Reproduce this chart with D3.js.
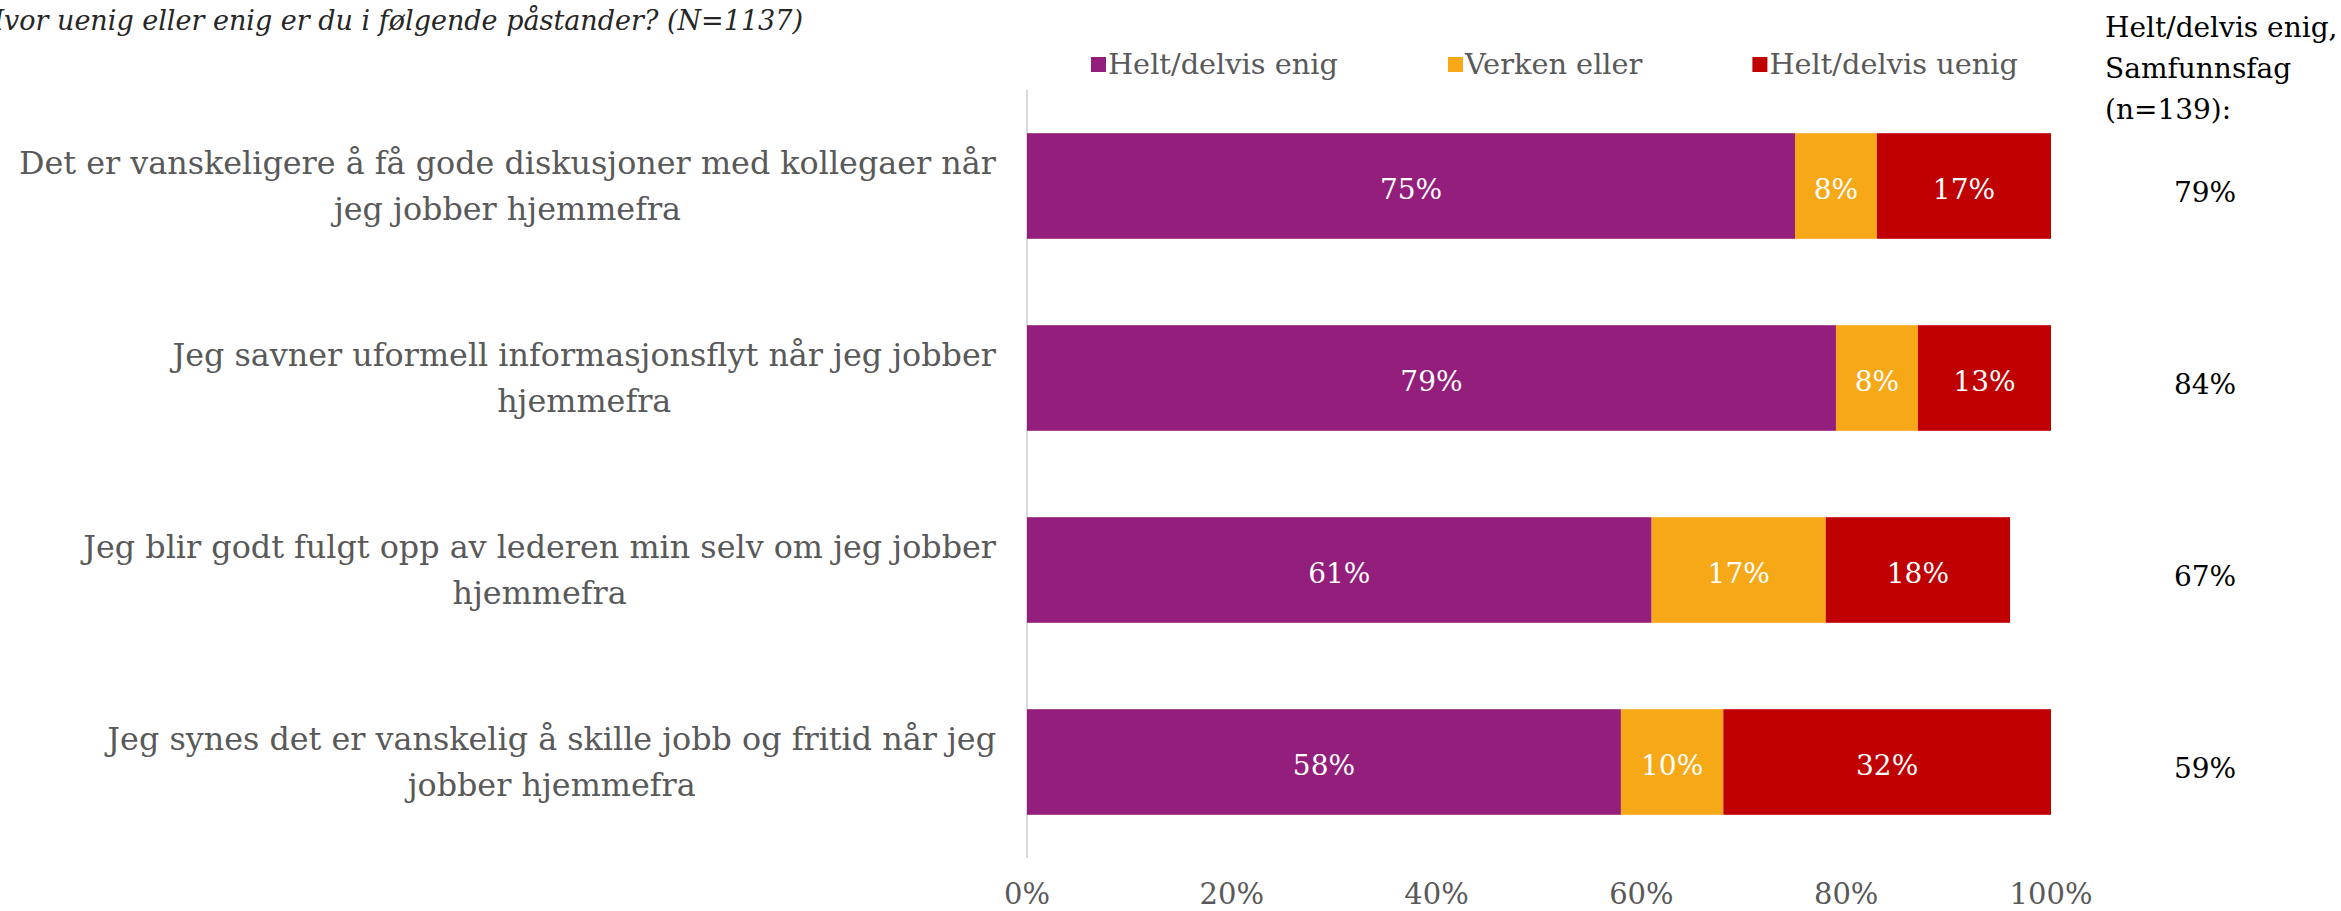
<!DOCTYPE html>
<html>
<head>
<meta charset="utf-8">
<script src="https://cdn.jsdelivr.net/npm/d3@7"></script>
<style>
  html, body { margin: 0; padding: 0; background: #fff; overflow: hidden; }
  svg { display: block; font-family: "DejaVu Serif", "Liberation Serif", serif; }
</style>
</head>
<body>
<div id="chart"></div>
<script>
// data
const statements = [
    ["Det er vanskeligere å få gode diskusjoner med kollegaer når", "jeg jobber hjemmefra"],
    ["Jeg savner uformell informasjonsflyt når jeg jobber", "hjemmefra"],
    ["Jeg blir godt fulgt opp av lederen min selv om jeg jobber", "hjemmefra"],
    ["Jeg synes det er vanskelig å skille jobb og fritid når jeg", "jobber hjemmefra"]
];
const seriesNames = ["Helt/delvis enig", "Verken eller", "Helt/delvis uenig"];
const enig = [75, 79, 61, 58];
const verken = [8, 8, 17, 10];
const uenig = [17, 13, 18, 32];
const samfunnsfag = [79, 84, 67, 59];
const xTicks = [0, 20, 40, 60, 80, 100];
const title = "Hvor uenig eller enig er du i følgende påstander? (N=1137)";
const sideHeader = ["Helt/delvis enig,", "Samfunnsfag", "(n=139):"];

const colors = ["#931E7B", "#F6A816", "#C00000"];

const width = 2341, height = 911;
const svg = d3.select("#chart").append("svg")
    .attr("width", width).attr("height", height);

const x = d3.scaleLinear().domain([0, 100]).range([1027, 2051]);
const y = d3.scaleBand().domain(d3.range(statements.length))
    .range([90, 858]).paddingInner(0.45).paddingOuter(0.225);

// stacked rows
const rows = statements.map((s, i) => ({ i, v0: enig[i], v1: verken[i], v2: uenig[i] }));
const stack = d3.stack().keys(["v0", "v1", "v2"])(rows);

// title (runs off the left edge as in the original)
svg.append("text")
    .attr("x", 803).attr("y", 30)
    .attr("text-anchor", "end")
    .attr("font-size", 27).attr("font-style", "italic")
    .attr("fill", "#262626")
    .text(title);

// vertical axis line
svg.append("line")
    .attr("x1", x(0)).attr("x2", x(0))
    .attr("y1", y.range()[0]).attr("y2", y.range()[1])
    .attr("stroke", "#D9D9D9").attr("stroke-width", 2);

// bars
const layer = svg.selectAll("g.layer").data(stack).enter().append("g")
    .attr("class", "layer").attr("fill", (d, k) => colors[k]);

layer.selectAll("rect").data(d => d).enter().append("rect")
    .attr("x", d => x(d[0]))
    .attr("y", d => y(d.data.i))
    .attr("width", d => x(d[1]) - x(d[0]))
    .attr("height", y.bandwidth());

layer.selectAll("text").data(d => d).enter().append("text")
    .attr("x", d => (x(d[0]) + x(d[1])) / 2)
    .attr("y", d => y(d.data.i) + y.bandwidth() / 2 + 13)
    .attr("text-anchor", "middle")
    .attr("font-size", 28).attr("fill", "#fff")
    .text(d => (d[1] - d[0]) + "%");

// category labels, right aligned block with centered lines
const labelRight = 996;
statements.forEach((lines, i) => {
    const g = svg.append("g");
    const cy = y(i) + y.bandwidth() / 2;
    const t = g.selectAll("text").data(lines).enter().append("text")
        .attr("y", (d, k) => cy + (k - (lines.length - 1) / 2) * 46 + 11)
        .attr("text-anchor", "middle")
        .attr("font-size", 31.8).attr("fill", "#595959")
        .text(d => d);
    const maxW = d3.max(t.nodes(), n => n.getComputedTextLength());
    t.attr("x", labelRight - maxW / 2);
});

// x axis tick labels
svg.selectAll("text.tick").data(xTicks).enter().append("text")
    .attr("class", "tick")
    .attr("x", d => x(d)).attr("y", 904)
    .attr("text-anchor", "middle")
    .attr("font-size", 29).attr("fill", "#595959")
    .text(d => d + "%");

// legend
let lx = 1091;
seriesNames.forEach((name, k) => {
    svg.append("rect")
        .attr("x", lx).attr("y", 57).attr("width", 15).attr("height", 15)
        .attr("fill", colors[k]);
    const t = svg.append("text")
        .attr("x", lx + 17).attr("y", 74)
        .attr("font-size", 28.8).attr("fill", "#595959")
        .text(name);
    lx += 17 + t.node().getComputedTextLength() + 110;
});

// side column
svg.selectAll("text.side").data(sideHeader).enter().append("text")
    .attr("class", "side")
    .attr("x", 2105).attr("y", (d, k) => 37 + k * 41)
    .attr("font-size", 28).attr("fill", "#000")
    .text(d => d);

svg.selectAll("text.sval").data(samfunnsfag).enter().append("text")
    .attr("class", "sval")
    .attr("x", 2205)
    .attr("y", (d, i) => y(i) + y.bandwidth() / 2 + 16)
    .attr("text-anchor", "middle")
    .attr("font-size", 28).attr("fill", "#000")
    .text(d => d + "%");
</script>
</body>
</html>
